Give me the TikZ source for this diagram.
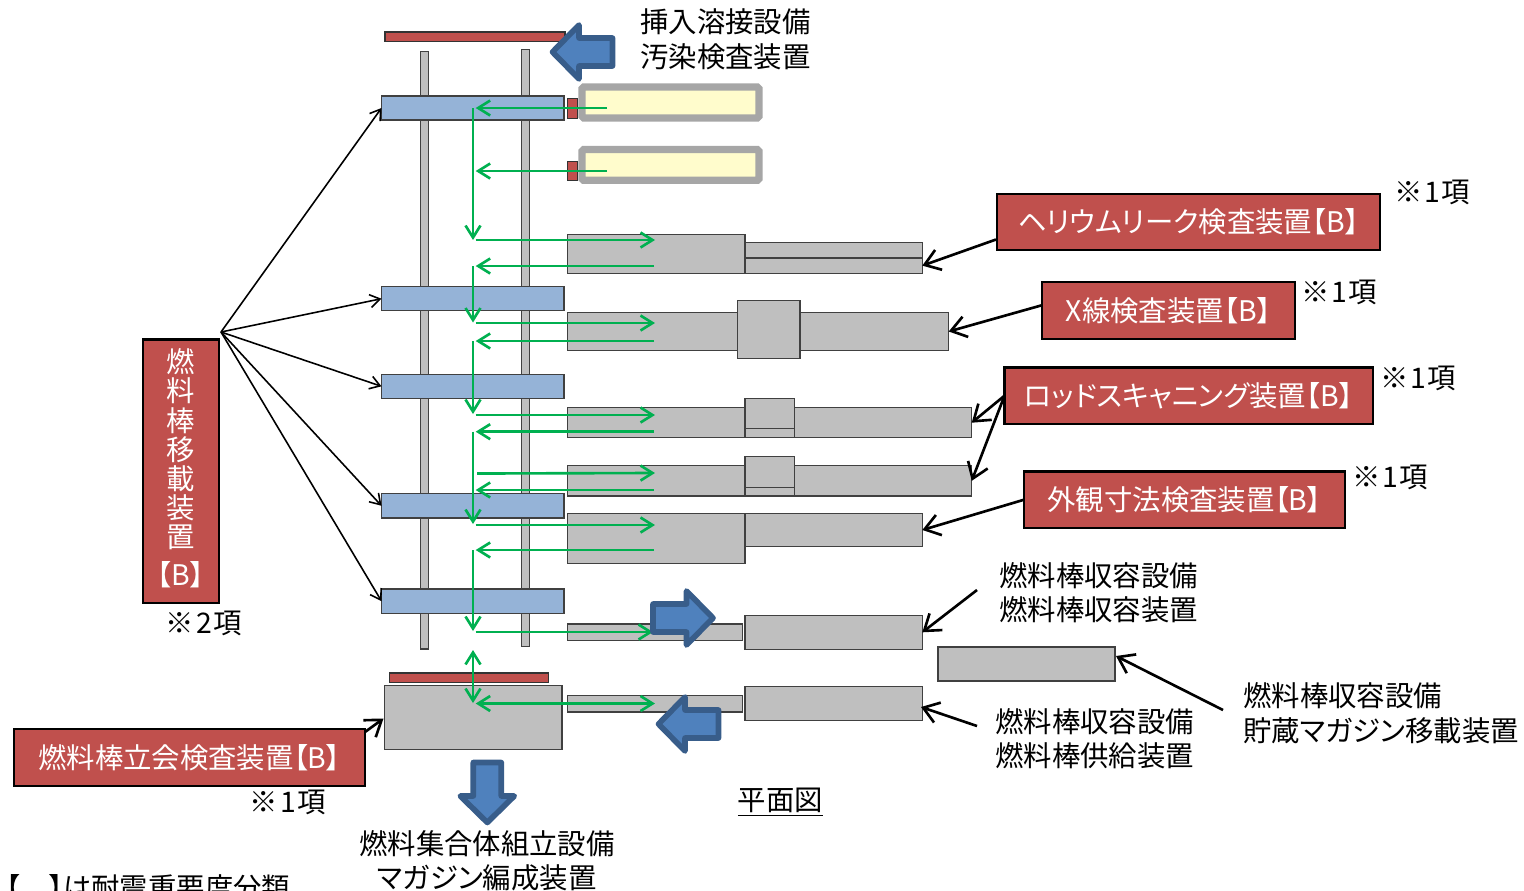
\documentclass[tikz,border=0pt]{standalone}
\usepackage{fontspec}
\setmainfont{Noto Sans CJK JP}[RawFeature=+palt]
\usetikzlibrary{arrows.meta}

\definecolor{partgray}{HTML}{BFBFBF}
\definecolor{edgegray}{HTML}{404040}
\definecolor{barblue}{HTML}{95B3D7}
\definecolor{labelred}{HTML}{C0504D}
\definecolor{pathgreen}{HTML}{00B050}
\definecolor{arrowfill}{HTML}{4F81BD}
\definecolor{arrowedge}{HTML}{385D8A}

\tikzset{
  flatbox/.style={draw=edgegray, line width=0.6pt, inner sep=0pt, outer sep=0pt},
  graypart/.style={flatbox, fill=partgray},
  carrier/.style={flatbox, fill=barblue},
  redpart/.style={flatbox, draw=black!80, fill=labelred},
  yellowpart/.style={flatbox, draw=black!35, line width=4.2pt, rounded corners=1pt, fill=yellow!20},
  labelbox/.style={draw=black, line width=1.4pt, fill=labelred, text=white, inner sep=0pt, outer sep=0pt, align=center},
  caption/.style={inner sep=0pt, align=left},
  flow/.style={draw=pathgreen, line width=1.5pt, -{Straight Barb[length=0.24cm,width=0.3cm]}},
  flowboth/.style={draw=pathgreen, line width=1.5pt, {Straight Barb[length=0.24cm,width=0.3cm]}-{Straight Barb[length=0.24cm,width=0.3cm]}},
  thinpointer/.style={draw=black, line width=0.9pt, -{Straight Barb[length=0.2cm,width=0.26cm]}},
  pointer/.style={draw=black, line width=1.5pt, -{Straight Barb[length=0.3cm,width=0.42cm]}},
  bigarrow/.pic={
    \draw[fill=arrowfill, draw=arrowedge, line width=3.2pt, line join=round]
      (0,0) -- (26.5,-27) -- (26.5,-14) -- (60,-14) -- (60,14) -- (26.5,14) -- (26.5,27) -- cycle;
  }
}

% box given by its corners in picture pixels
\newcommand{\partbox}[6]{\node[#1, minimum width={(#5-#3)*0.02cm}, minimum height={(#6-#4)*0.02cm}] (#2) at ({(#3+#5)/2},{(#4+#6)/2}) {};}
\newcommand{\itemnote}[1]{※\kern1pt #1\kern1pt 項}

\begin{document}
\begin{tikzpicture}[x=0.02cm, y=-0.02cm, font=\fontsize{16.15}{19.6}\selectfont]
    \useasboundingbox (0,0) rectangle (1524,890);

    % Rails and stage
    \partbox{graypart}{railL}{420.7}{51.5}{428.3}{649}
    \partbox{graypart}{railR}{521.7}{49.3}{529.3}{646.7}
    \partbox{redpart}{topbar}{385}{32}{565}{41.5}

    % Carriers
    \partbox{carrier}{carrierA}{381.5}{96}{564}{120}
    \partbox{carrier}{carrierB}{381.5}{286.7}{564}{310.7}
    \partbox{carrier}{carrierC}{381.5}{374.3}{564}{398.3}
    \partbox{carrier}{carrierD}{381.5}{493.5}{564}{518}
    \partbox{carrier}{carrierE}{381.5}{589}{564}{613.3}

    % Welding stations
    \partbox{redpart}{tabA}{567.3}{98.3}{577.3}{118.3}
    \partbox{redpart}{tabB}{567.3}{161.3}{577.3}{180.7}
    \partbox{yellowpart}{weldA}{582}{87}{759}{118}
    \partbox{yellowpart}{weldB}{582}{149.5}{759}{180.3}

    % Helium leak station
    \partbox{graypart}{heliumL}{567.3}{234.7}{745}{273.3}
    \partbox{graypart}{heliumU}{745}{242.5}{922.3}{258}
    \partbox{graypart}{heliumR}{745}{258}{922.3}{273.3}

    % X-ray station
    \partbox{graypart}{xrayL}{567.3}{312.3}{737.3}{350.7}
    \partbox{graypart}{xrayR}{800}{312.3}{948.7}{350.7}
    \partbox{graypart}{xrayM}{737.3}{300.5}{800}{358.5}

    % Rod scanning stations
    \partbox{graypart}{scanAL}{567.3}{407.7}{745}{437.7}
    \partbox{graypart}{scanAR}{794.5}{407.7}{971.7}{437.7}
    \partbox{graypart}{scanAU}{745}{398.3}{794.5}{428.3}
    \partbox{graypart}{scanAD}{745}{428.3}{794.5}{437.7}
    \partbox{graypart}{scanBL}{567.3}{465.7}{745}{496}
    \partbox{graypart}{scanBR}{794.5}{465.7}{971.7}{496}
    \partbox{graypart}{scanBU}{745}{456.7}{794.5}{487.3}
    \partbox{graypart}{scanBD}{745}{487.3}{794.5}{496}

    % Appearance station
    \partbox{graypart}{lookL}{567.3}{513.3}{745}{563.3}
    \partbox{graypart}{lookR}{745}{513.3}{922.3}{546.7}

    % Storage and feed
    \partbox{graypart}{storeL}{567.3}{624}{742.7}{640.7}
    \partbox{graypart}{storeR}{745}{615.3}{922.3}{649.3}
    \partbox{graypart}{feedL}{567.3}{695.3}{742.7}{712}
    \partbox{graypart}{feedR}{745}{686.7}{922.3}{720.3}
    \partbox{graypart}{magazine}{938}{647}{1115}{681}

    % Witness station
    \partbox{redpart}{witnessbar}{389.3}{673}{548.7}{682.7}
    \partbox{graypart}{witness}{384.3}{685.3}{562}{749.3}

    % Flow points
    \coordinate (a1) at (607,108);
    \coordinate (a2) at (475.7,108);
    \coordinate (a3) at (473,108);
    \coordinate (b1) at (607,171);
    \coordinate (b2) at (475.7,171);
    \coordinate (c1) at (473,240);
    \coordinate (c2) at (475.7,240);
    \coordinate (c3) at (655,240);
    \coordinate (d1) at (654,266);
    \coordinate (d2) at (475.7,266);
    \coordinate (d3) at (473,266);
    \coordinate (e1) at (473,322.5);
    \coordinate (e2) at (475.7,323);
    \coordinate (e3) at (655,323);
    \coordinate (f1) at (654,341);
    \coordinate (f2) at (475.7,341);
    \coordinate (f3) at (473,341);
    \coordinate (g1) at (473,414);
    \coordinate (g2) at (475.7,415);
    \coordinate (g3) at (655,415);
    \coordinate (h1) at (654,431.7);
    \coordinate (h2) at (475.7,431.7);
    \coordinate (h3) at (473,431.7);
    \coordinate (i1) at (477,473.5);
    \coordinate (i2) at (655,473);
    \coordinate (j1) at (654,490);
    \coordinate (j2) at (475.7,490);
    \coordinate (k1) at (473,524);
    \coordinate (k2) at (475.7,525);
    \coordinate (k3) at (655,525);
    \coordinate (l1) at (654,550);
    \coordinate (l2) at (475.7,550);
    \coordinate (l3) at (473,550);
    \coordinate (m1) at (473,631);
    \coordinate (m2) at (475.7,632);
    \coordinate (m3) at (653,632);
    \coordinate (n1) at (473,650);
    \coordinate (n2) at (473,703);
    \coordinate (o1) at (475.7,703.5);
    \coordinate (o2) at (655,703.5);

    % Green flow
    \draw[flow] (a1) -- (a2);
    \draw[flow] (b1) -- (b2);
    \draw[flow] (a3) -- (c1);
    \draw[flow] (c2) -- (c3);
    \draw[flow] (d1) -- (d2);
    \draw[flow] (d3) -- (e1);
    \draw[flow] (e2) -- (e3);
    \draw[flow] (f1) -- (f2);
    \draw[flow] (f3) -- (g1);
    \draw[flow] (g2) -- (g3);
    \draw[flow] (h1) -- (h2);
    \draw[flow] (h3) -- (k1);
    \draw[flow] (i1) -- (i2);
    \draw[flow] (j1) -- (j2);
    \draw[flow] (k2) -- (k3);
    \draw[flow] (l1) -- (l2);
    \draw[flow] (l3) -- (m1);
    \draw[flow] (m2) -- (m3);
    \draw[flowboth] (n1) -- (n2);
    \draw[flowboth] (o1) -- (o2);

    % Block arrows
    \pic at (552.5,52) {bigarrow};
    \pic[rotate=180] at (713,618) {bigarrow};
    \pic at (658.5,724) {bigarrow};
    \pic[rotate=90] at (487.3,822.5) {bigarrow};

    % Red labels
    \node[labelbox, minimum width=1.52cm, minimum height=5.27cm] (moverbox) at (181,471.2) {};
    \node[inner sep=0pt, text=white, align=center, font=\fontsize{16.15}{16.6}\selectfont] (movertext) at (181,468.5) {燃\\料\\棒\\移\\載\\装\\置\\[5pt]【B】};
    \node[labelbox, minimum width=7.66cm, minimum height=1.12cm] (heliumbox) at (1188.5,222) {ヘリウムリーク検査装置【B】};
    \node[labelbox, minimum width=5.06cm, minimum height=1.14cm] (xraybox) at (1168.5,310.5) {X線検査装置【B】};
    \node[labelbox, minimum width=7.37cm, minimum height=1.13cm] (scanbox) at (1188.7,395.7) {ロッドスキャニング装置【B】};
    \node[labelbox, minimum width=6.42cm, minimum height=1.13cm] (lookbox) at (1184.5,499.7) {外観寸法検査装置【B】};
    \node[labelbox, minimum width=7.02cm, minimum height=1.14cm] (witnessbox) at (189.5,757.5) {燃料棒立会検査装置【B】};

    % Notes
    \node (noteA) at (1432,192) {\itemnote{1}};
    \node (noteB) at (1339,292) {\itemnote{1}};
    \node (noteC) at (1418,378) {\itemnote{1}};
    \node (noteD) at (1390,477) {\itemnote{1}};
    \node (noteE) at (204,623) {\itemnote{2}};
    \node (noteF) at (288,802) {\itemnote{1}};

    % Captions
    \node[caption, anchor=west] (weldtext) at (640,39.5) {挿入溶接設備\\汚染検査装置};
    \node[caption, anchor=west] (storetext) at (999,592.5) {燃料棒収容設備\\燃料棒収容装置};
    \node[caption, anchor=west] (feedtext) at (995,738.5) {燃料棒収容設備\\燃料棒供給装置};
    \node[caption, anchor=west] (magtext) at (1243,713) {燃料棒収容設備\\貯蔵マガジン移載装置};
    \node[caption, align=center] (assytext) at (487,860.5) {燃料集合体組立設備\\マガジン編成装置};
    \node[inner sep=0pt] (plantext) at (780.5,802) {\underline{平面図}};
    \node[inner sep=0pt, anchor=west] (classtext) at (6,888) {【　】は耐震重要度分類};

    % Pointers
    \coordinate (hub) at (221,332);
    \draw[thinpointer] (hub) -- (carrierA.west);
    \draw[thinpointer] (hub) -- (carrierB.west);
    \draw[thinpointer] (hub) -- (carrierC.west);
    \draw[thinpointer] (hub) -- (carrierD.west);
    \draw[thinpointer] (hub) -- (carrierE.west);

    \coordinate (heliumfrom) at (996,239.5);
    \coordinate (xrayfrom) at (1041.7,305.3);
    \coordinate (storefrom) at (977,590);
    \coordinate (feedfrom) at (977,726);
    \coordinate (feedto) at (921,707);
    \coordinate (magfrom) at (1223,710);
    \coordinate (magto) at (1116,656);
    \coordinate (witnessfrom) at (365,732);
    \coordinate (witnessto) at (383.5,718.5);
    \draw[pointer] (heliumfrom) -- (heliumR.east);
    \draw[pointer] (xrayfrom) -- (xrayR.east);
    \draw[pointer] (scanbox.west) -- (scanAR.east);
    \draw[pointer] (scanbox.west) -- (scanBR.east);
    \draw[pointer] (lookbox.west) -- (lookR.east);
    \draw[pointer] (storefrom) -- (storeR.east);
    \draw[pointer] (feedfrom) -- (feedto);
    \draw[pointer] (magfrom) -- (magto);
    \draw[pointer] (witnessfrom) -- (witnessto);
\end{tikzpicture}
\end{document}
